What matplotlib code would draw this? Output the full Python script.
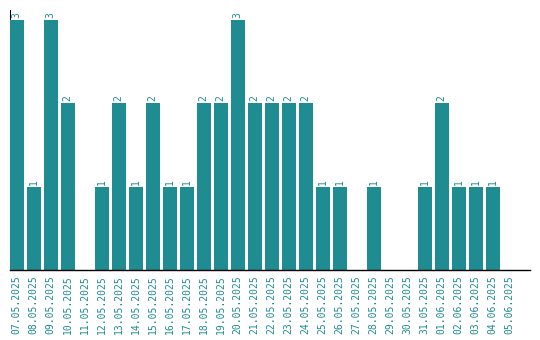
import matplotlib
matplotlib.use("Agg")
import matplotlib.pyplot as plt

dates = ["07.05.2025", "08.05.2025", "09.05.2025", "10.05.2025", "11.05.2025",
         "12.05.2025", "13.05.2025", "14.05.2025", "15.05.2025", "16.05.2025",
         "17.05.2025", "18.05.2025", "19.05.2025", "20.05.2025", "21.05.2025",
         "22.05.2025", "23.05.2025", "24.05.2025", "25.05.2025", "26.05.2025",
         "27.05.2025", "28.05.2025", "29.05.2025", "30.05.2025", "31.05.2025",
         "01.06.2025", "02.06.2025", "03.06.2025", "04.06.2025", "05.06.2025"]
counts = [3, 1, 3, 2, 0, 1, 2, 1, 2, 1, 1, 2, 2, 3, 2, 2, 2, 2, 1, 1,
          0, 1, 0, 0, 1, 2, 1, 1, 1, 0]

color = "#1e8c91"
fig = plt.figure(figsize=(5.4, 3.4), dpi=100)
ax = fig.add_axes([10/540, 70/340, 520/540, 260/340])
x = list(range(len(dates)))
bw = 14 / 17
ax.bar(x, counts, width=bw, color=color, zorder=2)
left = -bw / 2 + 0.45 / 17
ax.set_xlim(left, left + 520 / 17)
ax.set_ylim(0, 3 * 260 / 250)
for xi, v in zip(x, counts):
    if v > 0:
        ax.annotate(str(v), (xi, v), xytext=(0, 1.5), textcoords="offset points",
                    rotation=90, ha="center", va="bottom", color=color,
                    fontsize=7, family="DejaVu Sans Mono")
ax.set_xticks(x)
ax.set_xticklabels(dates, rotation=90, color=color, fontsize=7,
                   family="DejaVu Sans Mono")
ax.tick_params(axis="x", length=0, pad=4)
ax.set_yticks([])
for s in ["top", "right"]:
    ax.spines[s].set_visible(False)
ax.spines["left"].set_zorder(1)
ax.spines["bottom"].set_zorder(3)
ax.spines["bottom"].set_linewidth(1.0)
ax.spines["left"].set_linewidth(0.75)
fig.savefig("out.png", dpi=100)
